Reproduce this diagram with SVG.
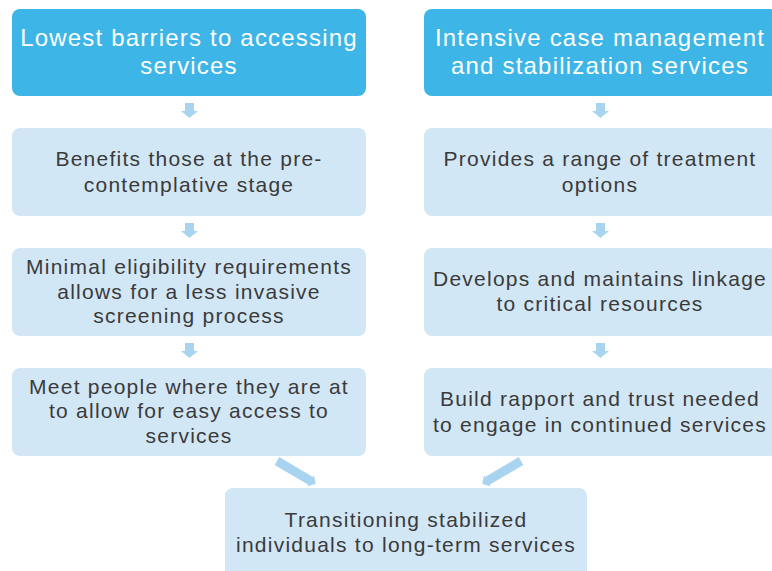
<svg xmlns="http://www.w3.org/2000/svg" width="772" height="571" viewBox="0 0 772 571">
<style>
.top{fill:#3db5e6}
.lt{fill:#d2e7f5}
.tt{font-family:"Liberation Sans",Arial,sans-serif;font-size:24px;letter-spacing:1.2px;fill:#ffffff;text-anchor:middle}
.bt{font-family:"Liberation Sans",Arial,sans-serif;font-size:21px;letter-spacing:1.25px;fill:#3a3a3a;text-anchor:middle}
.arr{fill:#a9d4ef}
</style>
<rect width="772" height="571" fill="#ffffff"/>
<g id="connectors">
<path class="arr" d="M185,103 h9 v8 h4 l-8.5,7 l-8.5,-7 h4 z"/>
<path class="arr" d="M185,223 h9 v8 h4 l-8.5,7 l-8.5,-7 h4 z"/>
<path class="arr" d="M185,343 h9 v8 h4 l-8.5,7 l-8.5,-7 h4 z"/>
<path class="arr" d="M596,103 h9 v8 h4 l-8.5,7 l-8.5,-7 h4 z"/>
<path class="arr" d="M596,223 h9 v8 h4 l-8.5,7 l-8.5,-7 h4 z"/>
<path class="arr" d="M596,343 h9 v8 h4 l-8.5,7 l-8.5,-7 h4 z"/>
<path class="arr" transform="translate(277,461) rotate(30.5)" d="M0,-4.5 H39 V-6.5 L45,0 L39,6.5 V4.5 H0 z"/>
<path class="arr" transform="translate(521,461) rotate(149.5)" d="M0,-4.5 H39 V-6.5 L45,0 L39,6.5 V4.5 H0 z"/>
</g>
<g id="n1"><rect class="top" x="12" y="9" width="354" height="87" rx="8"/>
<text class="tt" x="189" y="46">Lowest barriers to accessing</text><text class="tt" x="189" y="74">services</text></g>
<g id="n2"><rect class="lt" x="12" y="128" width="354" height="88" rx="8"/>
<text class="bt" x="189" y="166">Benefits those at the pre-</text><text class="bt" x="189" y="192">contemplative stage</text></g>
<g id="n3"><rect class="lt" x="12" y="248" width="354" height="88" rx="8"/>
<text class="bt" x="189" y="274">Minimal eligibility requirements</text><text class="bt" x="189" y="299">allows for a less invasive</text><text class="bt" x="189" y="323">screening process</text></g>
<g id="n4"><rect class="lt" x="12" y="368" width="354" height="88" rx="8"/>
<text class="bt" x="189" y="394">Meet people where they are at</text><text class="bt" x="189" y="418">to allow for easy access to</text><text class="bt" x="189" y="443">services</text></g>
<g id="n5"><rect class="top" x="424" y="9" width="354" height="87" rx="8"/>
<text class="tt" x="600" y="46">Intensive case management</text><text class="tt" x="600" y="74">and stabilization services</text></g>
<g id="n6"><rect class="lt" x="424" y="128" width="354" height="88" rx="8"/>
<text class="bt" x="600" y="166">Provides a range of treatment</text><text class="bt" x="600" y="192">options</text></g>
<g id="n7"><rect class="lt" x="424" y="248" width="354" height="88" rx="8"/>
<text class="bt" x="600" y="286">Develops and maintains linkage</text><text class="bt" x="600" y="311">to critical resources</text></g>
<g id="n8"><rect class="lt" x="424" y="368" width="354" height="88" rx="8"/>
<text class="bt" x="600" y="406">Build rapport and trust needed</text><text class="bt" x="600" y="432">to engage in continued services</text></g>
<g id="n9"><rect class="lt" x="225" y="488" width="362" height="95" rx="8"/>
<text class="bt" x="406" y="527">Transitioning stabilized</text><text class="bt" x="406" y="552">individuals to long-term services</text></g>
</svg>
